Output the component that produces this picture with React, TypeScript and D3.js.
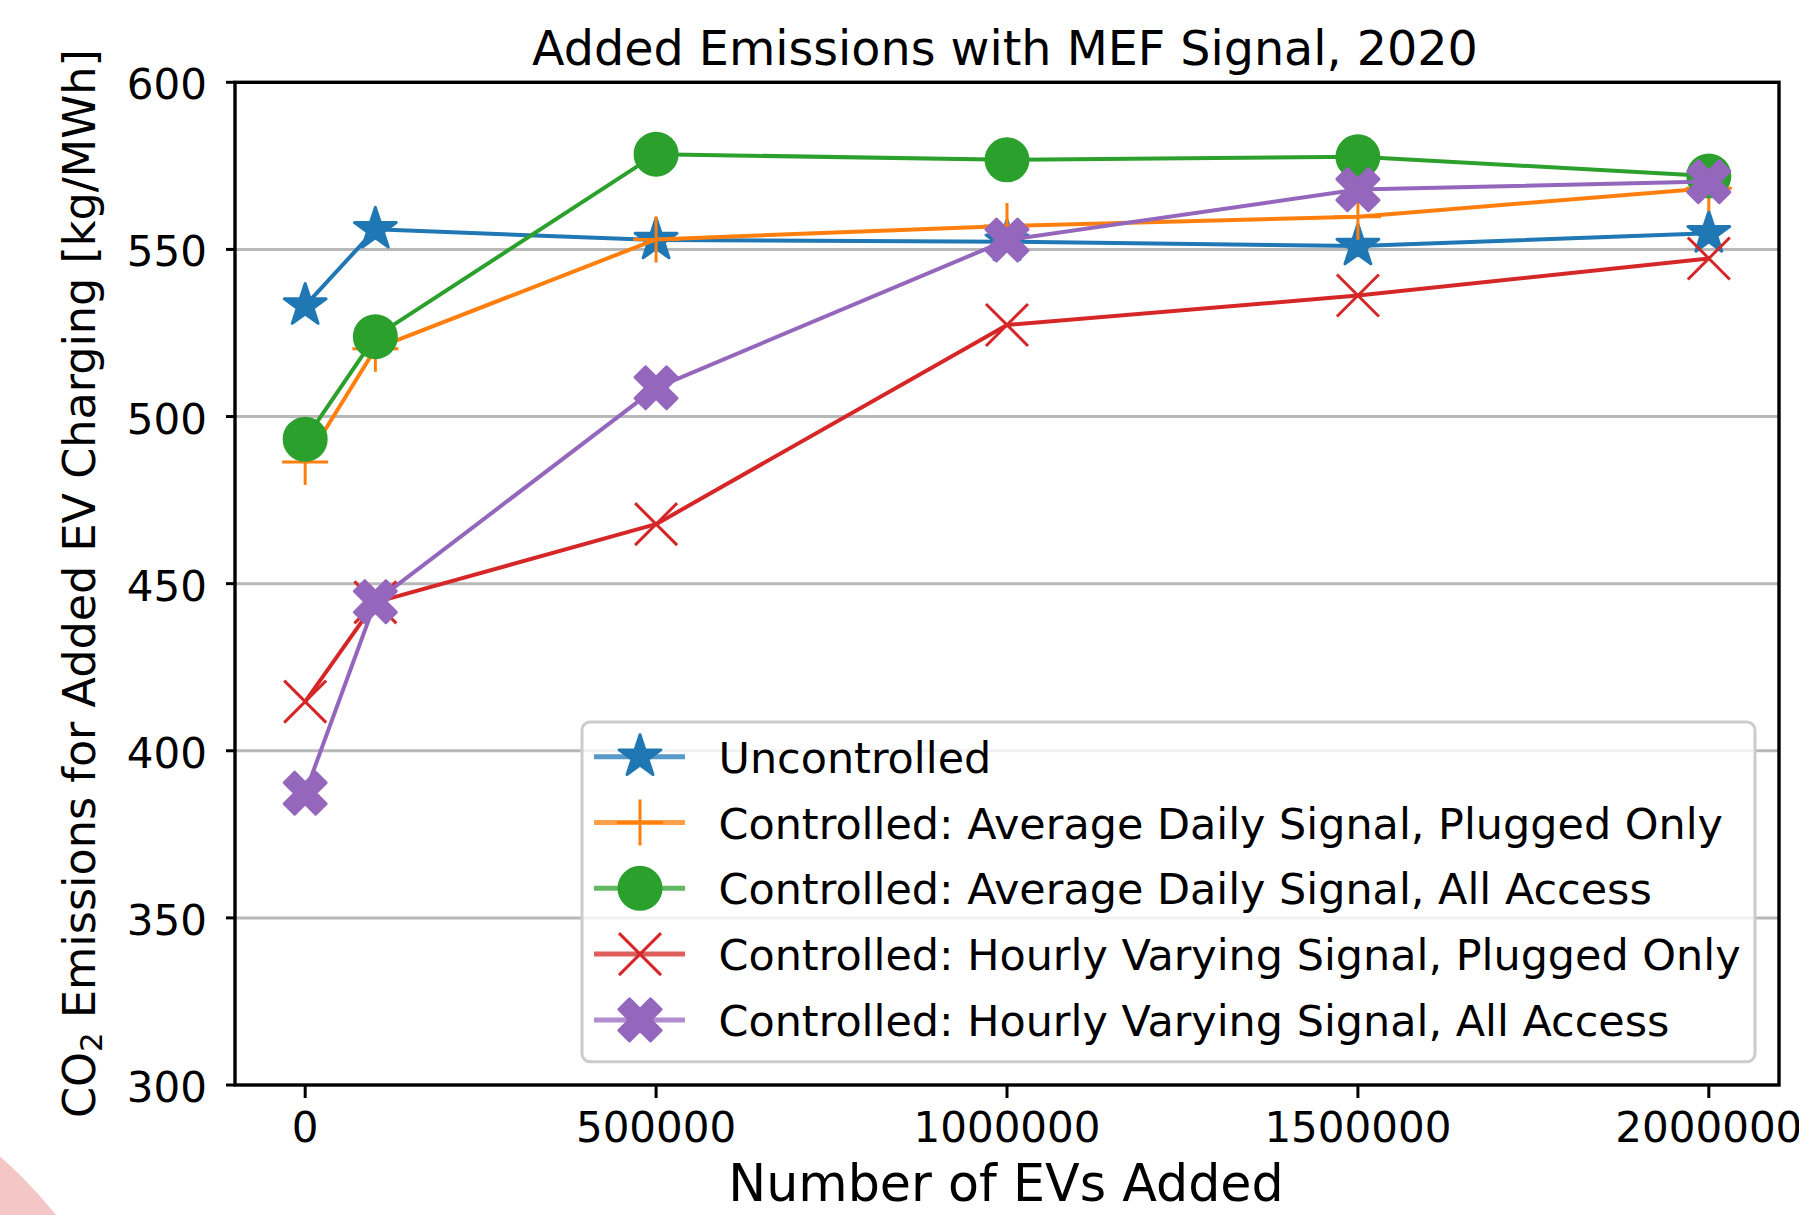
import * as d3 from "d3";

// data
const evsAdded = [0, 100000, 500000, 1000000, 1500000, 2000000];
const uncontrolled = [533.2, 556, 552.8, 552.3, 551, 554.8];
const avgDailyPlugged = [486.4, 520.3, 553, 557, 559.8, 568.3];
const avgDailyAll = [493.2, 523.9, 578.5, 576.8, 577.7, 572];
const hourlyPlugged = [414.7, 444.4, 467.8, 527.4, 536.2, 547.3];
const hourlyAll = [387.3, 444.6, 508.6, 552.8, 567.9, 570.3];

const xTicks = [0, 500000, 1000000, 1500000, 2000000];
const yTicks = [300, 350, 400, 450, 500, 550, 600];

const seriesNames = [
  "Uncontrolled",
  "Controlled: Average Daily Signal, Plugged Only",
  "Controlled: Average Daily Signal, All Access",
  "Controlled: Hourly Varying Signal, Plugged Only",
  "Controlled: Hourly Varying Signal, All Access",
];
const seriesValues = [uncontrolled, avgDailyPlugged, avgDailyAll, hourlyPlugged, hourlyAll];
const seriesColors = ["#1f77b4", "#ff7f0e", "#2ca02c", "#d62728", "#9467bd"];
const seriesMarkers = ["star", "plus", "circle", "x", "xfilled"];

const W = 1799;
const H = 1215;
const FONT = "DejaVu Sans";

const plot = { left: 235, right: 1779, top: 82.3, bottom: 1085 };

function markerPath(kind: string, cx: number, cy: number) {
  if (kind === "star") {
    const R = 22;
    const r = R * 0.381966;
    const pts: string[] = [];
    for (let i = 0; i < 10; i++) {
      const a = -Math.PI / 2 + (i * Math.PI) / 5;
      const rad = i % 2 === 0 ? R : r;
      pts.push(`${cx + rad * Math.cos(a)},${cy + rad * Math.sin(a)}`);
    }
    return "M" + pts.join("L") + "Z";
  }
  if (kind === "xfilled") {
    const s = 42 / 4;
    const p = [
      [-1, -2], [0, -1], [1, -2], [2, -1], [1, 0], [2, 1],
      [1, 2], [0, 1], [-1, 2], [-2, 1], [-1, 0], [-2, -1],
    ];
    return "M" + p.map(([a, b]) => `${cx + a * s},${cy + b * s}`).join("L") + "Z";
  }
  if (kind === "plus") {
    const h = 23;
    return `M${cx - h},${cy}H${cx + h}M${cx},${cy - h}V${cy + h}`;
  }
  if (kind === "x") {
    const h = 21;
    return `M${cx - h},${cy - h}L${cx + h},${cy + h}M${cx - h},${cy + h}L${cx + h},${cy - h}`;
  }
  return "";
}

function Marker({ kind, cx, cy, color }: { kind: string; cx: number; cy: number; color: string }) {
  if (kind === "circle") {
    return <circle cx={cx} cy={cy} r={21} fill={color} stroke={color} strokeWidth={3} />;
  }
  if (kind === "plus" || kind === "x") {
    return <path d={markerPath(kind, cx, cy)} fill="none" stroke={color} strokeWidth={3} />;
  }
  return (
    <path
      d={markerPath(kind, cx, cy)}
      fill={color}
      stroke={color}
      strokeWidth={3}
      strokeLinejoin="round"
    />
  );
}

export default function App() {
  const x = d3.scaleLinear().domain([-100000, 2100000]).range([plot.left, plot.right]);
  const y = d3.scaleLinear().domain([300, 600]).range([plot.bottom, plot.top]);

  const line = d3
    .line<number>()
    .x((_, i) => x(evsAdded[i]))
    .y((d) => y(d));

  const legendX = 582;
  const legendY = 722;
  const rowY0 = 756.7;
  const rowStep = 65.8;

  return (
    <svg
      width={W}
      height={H}
      style={{ position: "absolute", left: 0, top: 0, display: "block", background: "#fff" }}
      fontFamily={FONT}
    >
      <rect x={0} y={0} width={W} height={H} fill="#fff" />
      {/* pink decoration in the corner */}
      <circle cx={-300} cy={1500} r={456} fill="#f5c6c6" />

      {/* grid */}
      {yTicks
        .filter((t) => t > 300 && t < 600)
        .map((t) => (
          <line
            key={t}
            x1={plot.left}
            x2={plot.right}
            y1={y(t)}
            y2={y(t)}
            stroke="#b8b8b8"
            strokeWidth={3}
          />
        ))}

      {/* series */}
      {seriesValues.map((vals, si) => (
        <g key={si}>
          <path d={line(vals) || ""} fill="none" stroke={seriesColors[si]} strokeWidth={4} strokeLinejoin="round" />
          {vals.map((v, i) => (
            <Marker key={i} kind={seriesMarkers[si]} cx={x(evsAdded[i])} cy={y(v)} color={seriesColors[si]} />
          ))}
        </g>
      ))}

      {/* spines */}
      <rect
        x={plot.left}
        y={plot.top}
        width={plot.right - plot.left}
        height={plot.bottom - plot.top}
        fill="none"
        stroke="#000"
        strokeWidth={3.4}
      />

      {/* y ticks */}
      {yTicks.map((t) => (
        <g key={t}>
          <line x1={plot.left - 9} x2={plot.left} y1={y(t)} y2={y(t)} stroke="#000" strokeWidth={3} />
          <text x={207} y={y(t) + 17} textAnchor="end" fontSize={42} fill="#000">
            {t}
          </text>
        </g>
      ))}

      {/* x ticks */}
      {xTicks.map((t) => (
        <g key={t}>
          <line x1={x(t)} x2={x(t)} y1={plot.bottom} y2={plot.bottom + 13} stroke="#000" strokeWidth={3} />
          <text x={x(t)} y={1142} textAnchor="middle" fontSize={42} fill="#000">
            {t}
          </text>
        </g>
      ))}

      {/* title and labels */}
      <text x={1005} y={65} textAnchor="middle" fontSize={47.6} fill="#000">
        Added Emissions with MEF Signal, 2020
      </text>
      <text x={1006} y={1201} textAnchor="middle" fontSize={50.7} fill="#000">
        Number of EVs Added
      </text>
      <text
        transform={`translate(95,${(plot.top + plot.bottom) / 2}) rotate(-90)`}
        textAnchor="middle"
        fontSize={44.5}
        fill="#000"
      >
        CO
        <tspan fontSize={31} dy={7}>
          2
        </tspan>
        <tspan dy={-7}> Emissions for Added EV Charging [kg/MWh]</tspan>
      </text>

      {/* legend */}
      <rect
        x={legendX}
        y={legendY}
        width={1755 - legendX}
        height={1061.7 - legendY}
        rx={8}
        fill="#fff"
        fillOpacity={0.8}
        stroke="#cccccc"
        strokeWidth={3}
      />
      {seriesNames.map((name, si) => {
        const cy = rowY0 + si * rowStep;
        return (
          <g key={name}>
            <line x1={594} x2={685} y1={cy} y2={cy} stroke={seriesColors[si]} strokeWidth={5} strokeOpacity={0.75} />
            <Marker kind={seriesMarkers[si]} cx={640} cy={cy} color={seriesColors[si]} />
            <text x={718.5} y={cy + 16} fontSize={42.9} fill="#000">
              {name}
            </text>
          </g>
        );
      })}
    </svg>
  );
}
